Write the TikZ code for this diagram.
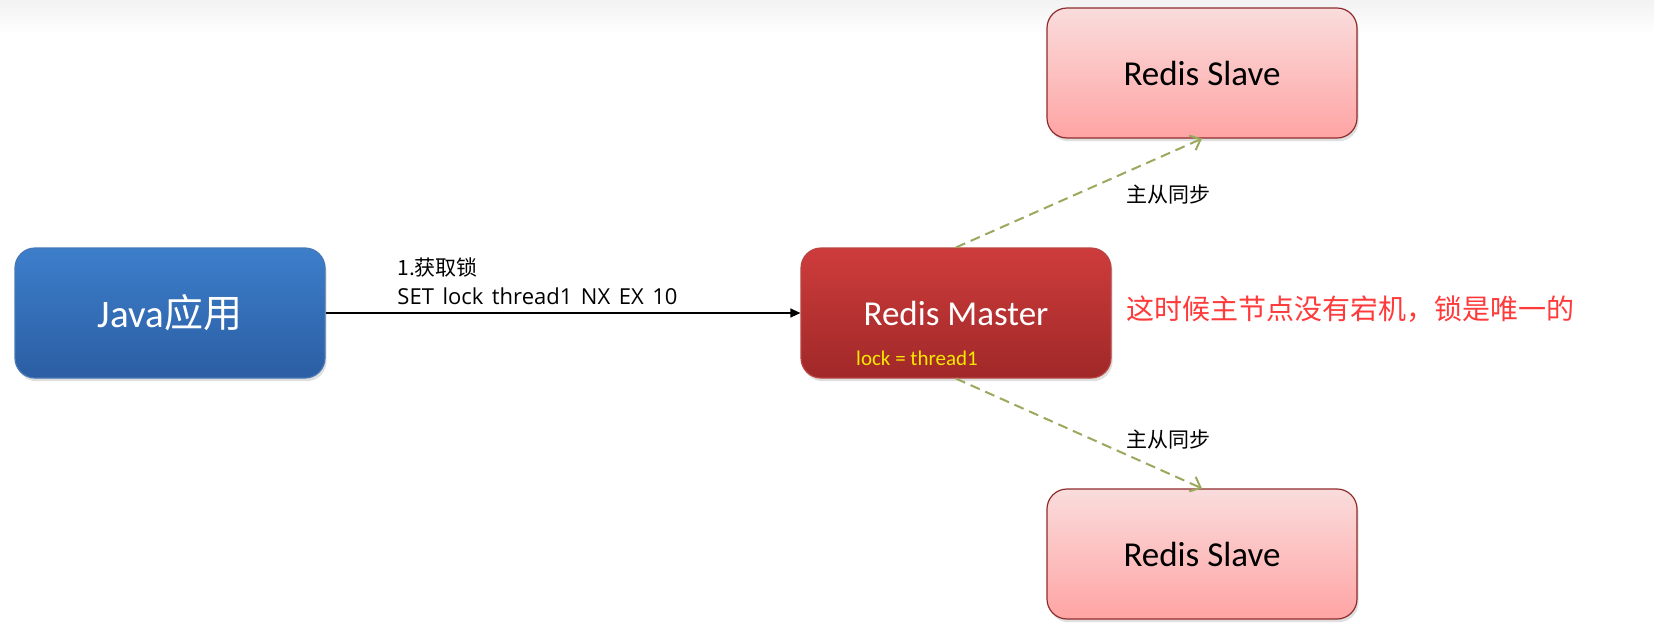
\documentclass[tikz,border=0pt]{standalone}
\usepackage{fontspec}
\setmainfont{Carlito}
\newfontfamily\cjk{Noto Sans CJK SC}
\newfontfamily\labfont[WordSpace=1.5]{Open Sans}
\usepackage{tikz}
\usetikzlibrary{arrows.meta, shadows}

\definecolor{javatop}{HTML}{3D7ECB}
\definecolor{javabot}{HTML}{2B5EA3}
\definecolor{javaline}{HTML}{4777B4}
\definecolor{mastertop}{HTML}{CE3C3C}
\definecolor{masterbot}{HTML}{A02828}
\definecolor{masterline}{HTML}{B84442}
\definecolor{slavetop}{HTML}{FADCDC}
\definecolor{slavebot}{HTML}{FFA4A4}
\definecolor{slaveline}{HTML}{8E2C2C}
\definecolor{syncgreen}{HTML}{9AA95E}
\definecolor{notered}{HTML}{FF3A3A}
\definecolor{lockyellow}{HTML}{F8E800}

\begin{document}
\begin{tikzpicture}[x=0.5pt, y=-0.5pt,
  box/.style={rounded corners=10pt, minimum width=155pt, minimum height=65pt,
    line width=0.6pt, font=\fontsize{17.5pt}{21pt}\selectfont,
    drop shadow={shadow xshift=0.8pt, shadow yshift=-1.6pt, opacity=0.25}},
  javabox/.style={box, draw=javaline, top color=javatop, bottom color=javabot, text=white},
  masterbox/.style={box, draw=masterline, top color=mastertop, bottom color=masterbot, text=white},
  slavebox/.style={box, draw=slaveline, top color=slavetop, bottom color=slavebot, text=black},
  lab/.style={font=\cjk\fontsize{10.5pt}{14.5pt}\selectfont, inner sep=0pt},
  sync/.style={draw=syncgreen, line width=1pt, dash pattern=on 5pt off 3pt,
    -{Straight Barb[length=4.5pt, width=8pt]}}]

% background
\fill[white] (0,0) rectangle (1654,623);
\shade[top color=black!5, bottom color=white] (0,0) rectangle (1654,34);
\useasboundingbox (0,0) rectangle (1654,623);

% Boxes
\node[javabox, font=\fontsize{19.5pt}{23pt}\selectfont] (java) at (170,313) {Java{\cjk 应用}};
\node[masterbox] (master) at (956,313) {Redis Master};
\node[slavebox] (slave1) at (1202,73) {Redis Slave};
\node[slavebox] (slave2) at (1202,554) {Redis Slave};
\node[font=\fontsize{10.5pt}{12pt}\selectfont, text=lockyellow, inner sep=0pt] (lock) at (917,358) {lock = thread1};

% Arrow java -> master
\draw[line width=0.65pt, -{Triangle[length=5pt, width=4.5pt]}] (java) -- (master)
  node[lab, pos=0.15, anchor=south west, align=left, yshift=4pt] (setcmd) {1.获取锁\\{\labfont\fontsize{11pt}{14.5pt}\selectfont SET lock thread1 NX EX 10}};

% Sync arrows
\draw[sync] (master.north) -- (slave1.south);
\draw[sync] (master.south) -- (slave2.north);
\node[lab] (sync1) at (1168,195) {主从同步};
\node[lab] (sync2) at (1168,440) {主从同步};

% Note
\node[font=\cjk\fontsize{14pt}{16pt}\selectfont, text=notered, anchor=west, inner sep=0pt] (note) at (1126,309) {这时候主节点没有宕机，锁是唯一的};

\end{tikzpicture}
\end{document}
